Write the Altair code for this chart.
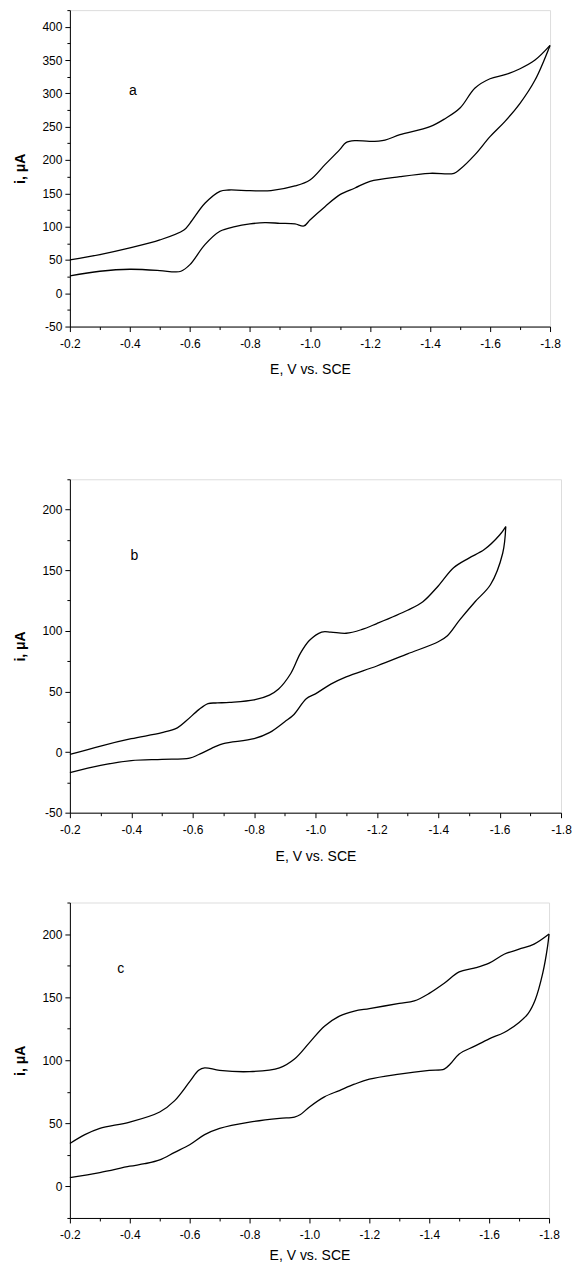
import altair as alt
import pandas as pd

# ---------------- data ----------------
# Panel a
a_up_E = [-0.2, -0.3, -0.4, -0.5, -0.58, -0.6, -0.65, -0.7, -0.73, -0.8, -0.87, -0.95, -1.0, -1.05,
          -1.1, -1.12, -1.15, -1.2, -1.25, -1.3, -1.4, -1.45, -1.5, -1.55, -1.6, -1.65, -1.7, -1.75, -1.8]
a_up_i = [50, 58, 68, 80, 95, 105, 135, 153, 155, 154, 154, 161, 170, 193,
          216, 226, 229, 228, 230, 238, 250, 262, 278, 308, 322, 328, 337, 350, 372]
a_lo_E = [-0.2, -0.3, -0.4, -0.5, -0.55, -0.57, -0.6, -0.65, -0.7, -0.75, -0.8, -0.85, -0.9, -0.95,
          -0.98, -1.0, -1.05, -1.1, -1.15, -1.2, -1.3, -1.4, -1.48, -1.5, -1.55, -1.6, -1.65, -1.7, -1.75, -1.8]
a_lo_i = [26, 33, 36, 34, 32, 33, 43, 73, 93, 100, 104, 106, 105, 104,
          101, 110, 130, 148, 158, 168, 175, 180, 180, 186, 208, 235, 258, 285, 320, 372]

# Panel b
b_up_E = [-0.2, -0.3, -0.4, -0.5, -0.55, -0.58, -0.62, -0.65, -0.68, -0.72, -0.8, -0.85, -0.88, -0.92,
          -0.95, -0.98, -1.02, -1.05, -1.1, -1.15, -1.2, -1.3, -1.35, -1.4, -1.45, -1.5, -1.55, -1.6, -1.62]
b_up_i = [-2, 5, 11, 16, 20, 26, 35, 40, 40.5, 41, 43, 47, 52, 65,
          81, 92, 99, 99, 98, 101, 106, 117, 124, 137, 152, 160, 167, 179, 186]
b_lo_E = [-0.2, -0.3, -0.4, -0.5, -0.59, -0.62, -0.67, -0.7, -0.8, -0.85, -0.9, -0.93, -0.97, -1.0,
          -1.05, -1.1, -1.2, -1.3, -1.4, -1.43, -1.47, -1.52, -1.57, -1.61, -1.62]
b_lo_i = [-17, -11, -7, -6, -5, -2, 4, 7, 11, 16, 25, 31, 44, 48,
          56, 62, 71, 81, 91, 96, 109, 124, 138, 164, 186]

# Panel c
c_up_E = [-0.2, -0.25, -0.3, -0.4, -0.5, -0.55, -0.6, -0.63, -0.65, -0.7, -0.8, -0.9, -0.95, -1.0, -1.05,
          -1.1, -1.15, -1.2, -1.3, -1.35, -1.4, -1.45, -1.5, -1.55, -1.6, -1.65, -1.7, -1.75, -1.8]
c_up_i = [34, 41, 46, 51, 59, 68, 83, 92, 94, 92, 91, 94, 101, 114, 127,
          135, 139, 141, 145, 147, 153, 161, 170, 173, 177, 184, 188, 192, 200]
c_lo_E = [-0.2, -0.3, -0.4, -0.45, -0.5, -0.55, -0.6, -0.65, -0.7, -0.8, -0.9, -0.95, -0.97, -1.0, -1.05,
          -1.1, -1.15, -1.2, -1.3, -1.4, -1.45, -1.47, -1.5, -1.55, -1.6, -1.65, -1.7, -1.73, -1.754,
          -1.779, -1.795, -1.8]
c_lo_i = [7, 11, 16, 18, 21, 27, 33, 41, 46, 51, 54, 55, 57, 63, 71,
          76, 81, 85, 89, 92, 93, 97, 105, 111, 117, 122, 130, 137, 148,
          169, 190, 200]

x_major = [-0.2, -0.4, -0.6, -0.8, -1.0, -1.2, -1.4, -1.6, -1.8]
x_minor = [-0.3, -0.5, -0.7, -0.9, -1.1, -1.3, -1.5, -1.7]

FONT = "Liberation Sans"


def frame(E_up, i_up, E_lo, i_lo):
    up = pd.DataFrame({"E": E_up, "i": i_up, "branch": "forward"})
    lo = pd.DataFrame({"E": E_lo, "i": i_lo, "branch": "reverse"})
    return pd.concat([up, lo], ignore_index=True)


def panel(df, ydom, y_major, y_minor, label, lab_E, lab_i, xtitle, w, h, xtitle_pad):
    xs = alt.Scale(domain=[-0.2, -1.8], nice=False, zero=False)
    ys = alt.Scale(domain=ydom, nice=False, zero=False)
    xaxis = alt.Axis(
        values=x_major, orient="bottom",
        labelExpr="'-' + format(abs(datum.value), '.1f')",
        tickSize=5, tickWidth=1, labelOverlap=False, labelFlush=False,
        grid=False, domainColor="black", tickColor="black", labelColor="black",
        labelFont=FONT, labelFontSize=12, labelPadding=7,
        title=xtitle, titleFont=FONT, titleFontSize=14, titleFontWeight="normal",
        titleColor="black", titlePadding=xtitle_pad,
    )
    yaxis = alt.Axis(
        values=y_major, orient="left",
        labelExpr="(datum.value < 0 ? '-' : '') + format(abs(datum.value), 'd')",
        tickSize=5, tickWidth=1, labelOverlap=False, labelFlush=False,
        grid=False, domainColor="black", tickColor="black", labelColor="black",
        labelFont=FONT, labelFontSize=12, labelPadding=3,
        title="i,  \u03bcA", titleFont=FONT, titleFontSize=14, titleFontWeight="bold",
        titleColor="black", titlePadding=14,
    )
    x_minor_axis = alt.Axis(values=x_minor, orient="bottom", labels=False, domain=False,
                            tickSize=3, tickWidth=1, tickColor="black", grid=False, title=None)
    y_minor_axis = alt.Axis(values=y_minor, orient="left", labels=False, domain=False,
                            tickSize=3, tickWidth=1, tickColor="black", grid=False, title=None)

    lines = alt.Chart(df).mark_line(color="black", strokeWidth=1.3, interpolate="catmull-rom").encode(
        x=alt.X("E:Q", scale=xs, axis=xaxis),
        y=alt.Y("i:Q", scale=ys, axis=yaxis),
        detail="branch:N",
        order="E:Q",
    )
    txt = alt.Chart(pd.DataFrame({"E": [lab_E], "i": [lab_i], "t": [label]})).mark_text(
        font=FONT, fontSize=14, color="black"
    ).encode(x=alt.X("E:Q", scale=xs, axis=x_minor_axis),
             y=alt.Y("i:Q", scale=ys, axis=y_minor_axis), text="t:N")
    return alt.layer(lines, txt).resolve_axis(x="independent", y="independent").properties(width=w, height=h)


pa = panel(frame(a_up_E, a_up_i, a_lo_E, a_lo_i), [-50, 425],
           list(range(-50, 401, 50)), list(range(-25, 426, 50)), "a", -0.41, 303,
           "E, V vs. SCE", 481, 317, 13)
pb = panel(frame(b_up_E, b_up_i, b_lo_E, b_lo_i), [-50, 225],
           list(range(-50, 201, 50)), list(range(-25, 226, 50)), "b", -0.41, 162,
           "E, V vs. SCE", 492, 334, 14)
pc = panel(frame(c_up_E, c_up_i, c_lo_E, c_lo_i), [-25, 225],
           list(range(0, 201, 50)), list(range(-25, 226, 50)), "c", -0.37, 172,
           "E, V vs. SCE", 480, 316, 8)

chart = alt.vconcat(alt.vconcat(pa, pb, spacing=101), pc, spacing=37).properties(
    padding={"left": 5, "top": 0, "right": 0, "bottom": 0}
).configure_view(stroke=None).configure(background="white")

chart.save("out.html", embed_options={"renderer": "svg", "actions": False})
